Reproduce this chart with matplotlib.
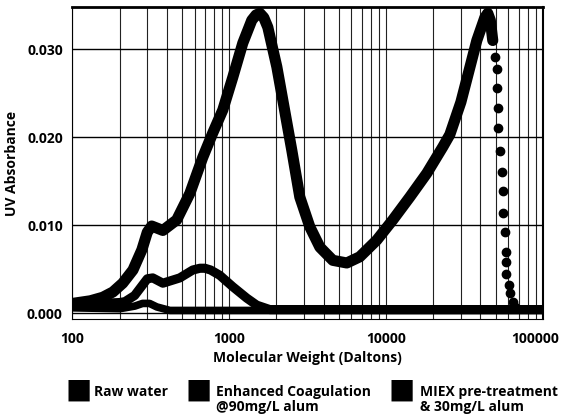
"""
UV absorbance vs molecular weight for raw water and two treatments
"""
import matplotlib.pyplot as plt
from matplotlib.transforms import ScaledTranslation

plt.rcParams['font.family'] = ['Open Sans', 'DejaVu Sans']
plt.rcParams['font.weight'] = 'bold'

RAW_X = [100, 130, 156, 181, 209, 243, 277, 300, 320, 377, 462, 560, 677, 785, 909, 1052,
         1219, 1391, 1480, 1566, 1660, 1761, 2010, 2195, 2505, 2816, 3264, 3780, 4573,
         5614, 6794, 8724, 11040, 14170, 18190, 23000, 25500, 30000, 37900, 42600, 44500,
         46200, 47900]
RAW_Y = [0.0011, 0.0014, 0.0018, 0.0024, 0.0034, 0.0049, 0.0072, 0.0092, 0.0099, 0.0094,
         0.0106, 0.0136, 0.0177, 0.0205, 0.0231, 0.0268, 0.0307, 0.0333, 0.0339, 0.0341,
         0.0336, 0.0325, 0.0280, 0.0242, 0.0185, 0.0132, 0.0098, 0.0075, 0.0060, 0.0057,
         0.0064, 0.0083, 0.0106, 0.0132, 0.0159, 0.0189, 0.0203, 0.0240, 0.0310, 0.0336,
         0.0341, 0.0333, 0.0310]

# dotted tail of the raw water curve
RAW_TAIL_X = [49300, 50800, 51200, 51600, 52000, 53100, 54700, 55500, 55700, 57400,
              58600, 58600, 58600, 60600, 61600, 64000, 66200]
RAW_TAIL_Y = [0.0291, 0.0278, 0.0256, 0.0233, 0.0210, 0.0184, 0.0161, 0.0139, 0.0114,
              0.0092, 0.0069, 0.0058, 0.0044, 0.0032, 0.0023, 0.0013, 0.0007]

ENH_X = [100, 150, 200, 216, 249, 280, 300, 325, 377, 483, 585, 650, 698, 760, 869, 1052,
         1293, 1497, 1812, 3000, 100000]
ENH_Y = [0.0011, 0.0011, 0.0012, 0.0013, 0.0020, 0.0032, 0.0039, 0.0040, 0.0034, 0.0040,
         0.0049, 0.0051, 0.0051, 0.0049, 0.0043, 0.0030, 0.0017, 0.0009, 0.0004, 0.0004,
         0.0004]

MIEX_X = [100, 200, 216, 250, 280, 310, 345, 418, 1000, 100000]
MIEX_Y = [0.0006, 0.0005, 0.0006, 0.0008, 0.0011, 0.0011, 0.0007, 0.0003, 0.0003, 0.0003]

LABELS = ['Raw water', 'Enhanced Coagulation\n@90mg/L alum', 'MIEX pre-treatment\n& 30mg/L alum']
Y_TICKS = [0.0, 0.01, 0.02, 0.03]
X_TICKS = [100, 1000, 10000, 100000]

fig = plt.figure(figsize=(5.62, 4.16), dpi=100)
ax = fig.add_axes([0.129, 0.233, 0.837, 0.750])

style = dict(color='black', solid_capstyle='round', solid_joinstyle='round')
ax.plot(MIEX_X, MIEX_Y, lw=5.5, **style)
ax.plot(ENH_X, ENH_Y, lw=6.6, **style)
ax.plot(RAW_X, RAW_Y, lw=8.0, **style)
ax.plot(RAW_TAIL_X, RAW_TAIL_Y, 'o', color='black', ms=6)

ax.set_xscale('log')
ax.set_xlim(100, 100000)
ax.set_ylim(-0.00068, 0.0348)
ax.set_xticks(X_TICKS)
ax.set_xticklabels([str(t) for t in X_TICKS])
ax.set_yticks(Y_TICKS)
ax.set_yticklabels(['{:.3f}'.format(t) for t in Y_TICKS])
ax.tick_params(which='both', length=0, labelsize=10)
ax.tick_params(axis='x', pad=9)
ax.tick_params(axis='y', pad=7)
# last tick label sits at the figure edge, nudge it left
last = ax.get_xticklabels()[-1]
last.set_transform(last.get_transform() + ScaledTranslation(-8 / 100, 0, fig.dpi_scale_trans))

ax.grid(True, which='major', axis='y', color='black', lw=1.0)
ax.grid(True, which='both', axis='x', color='#222222', lw=0.8)
ax.set_axisbelow(True)
ax.spines['top'].set_linewidth(2)
ax.spines['right'].set_linewidth(1.5)

ax.set_xlabel('Molecular Weight (Daltons)', fontsize=10, fontweight='bold', labelpad=4)
ax.set_ylabel('UV Absorbance', fontsize=10, fontweight='bold', labelpad=6)

# legend drawn as squares with text under the axis
for x_sq, x_txt, label in zip([0.14, 0.353, 0.715], [0.168, 0.385, 0.748], LABELS):
    fig.text(x_sq, 0.063, '\u25A0', fontsize=20, ha='center', va='center')
    fig.text(x_txt, 0.075, label, fontsize=10, ha='left', va='top', linespacing=1.1)

plt.savefig('out.png', dpi=100)
